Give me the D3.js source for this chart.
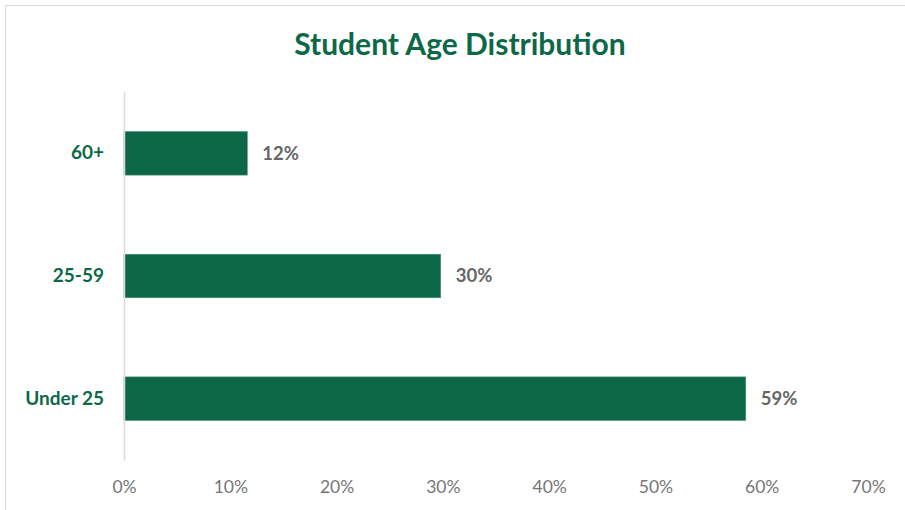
<!DOCTYPE html>
<html>
<head>
<meta charset="utf-8">
<script src="https://cdn.jsdelivr.net/npm/d3@7"></script>
<style>
  html, body { margin: 0; padding: 0; background: #fff; }
  svg { display: block; }
</style>
</head>
<body>
<script>
// Share of students by age group
const categories = ["60+", "25-59", "Under 25"];
const shares = [0.116, 0.298, 0.585];
const xTicks = [0, 0.1, 0.2, 0.3, 0.4, 0.5, 0.6, 0.7];
const title = "Student Age Distribution";

const W = 905, H = 510;
const green = "#0d6848";
const font = "Lato, 'Open Sans', sans-serif";

const svg = d3.select("body").append("svg")
  .attr("width", W).attr("height", H);

// chart frame
svg.append("rect")
  .attr("x", 5.5).attr("y", 5.5)
  .attr("width", W).attr("height", H)
  .attr("fill", "#fff")
  .attr("stroke", "#d9d9d9").attr("stroke-width", 1);

svg.append("text")
  .attr("x", 460).attr("y", 55)
  .attr("text-anchor", "middle")
  .attr("font-family", font).attr("font-weight", 700)
  .attr("font-size", 30)
  .attr("fill", green)
  .text(title);

const x = d3.scaleLinear().domain([0, 0.7]).range([124, 868]);
const y = d3.scaleBand().domain(categories).range([92, 460])
  .paddingInner(0.645).paddingOuter(0.3225);

// value axis labels
const xAxis = svg.append("g")
  .attr("transform", "translate(0,460)")
  .call(d3.axisBottom(x).tickValues(xTicks).tickFormat(d3.format(".0%"))
    .tickSize(0).tickPadding(21));
xAxis.select(".domain").remove();
xAxis.selectAll("text")
  .attr("font-family", font).attr("font-size", 17.5)
  .attr("fill", "#767676");

// bars
svg.append("g").selectAll("rect")
  .data(categories)
  .join("rect")
  .attr("x", x(0))
  .attr("y", d => y(d))
  .attr("width", (d, i) => x(shares[i]) - x(0))
  .attr("height", y.bandwidth())
  .attr("fill", green)
  .attr("stroke", "#4f9478").attr("stroke-width", 0.6);

// category axis
const yAxis = svg.append("g")
  .attr("transform", "translate(124,0)")
  .call(d3.axisLeft(y).tickSize(0).tickPadding(20));
yAxis.select(".domain")
  .attr("stroke", "#d9d9d9").attr("stroke-width", 1.5);
yAxis.selectAll("text")
  .attr("font-family", font).attr("font-weight", 700)
  .attr("font-size", 19).attr("fill", green);

// value labels
svg.append("g").selectAll("text")
  .data(categories)
  .join("text")
  .attr("x", (d, i) => x(shares[i]) + 15)
  .attr("y", d => y(d) + y.bandwidth() / 2)
  .attr("dy", "0.35em")
  .attr("font-family", font).attr("font-weight", 700)
  .attr("font-size", 18.5).attr("fill", "#666")
  .text((d, i) => d3.format(".0%")(shares[i]));
</script>
</body>
</html>
